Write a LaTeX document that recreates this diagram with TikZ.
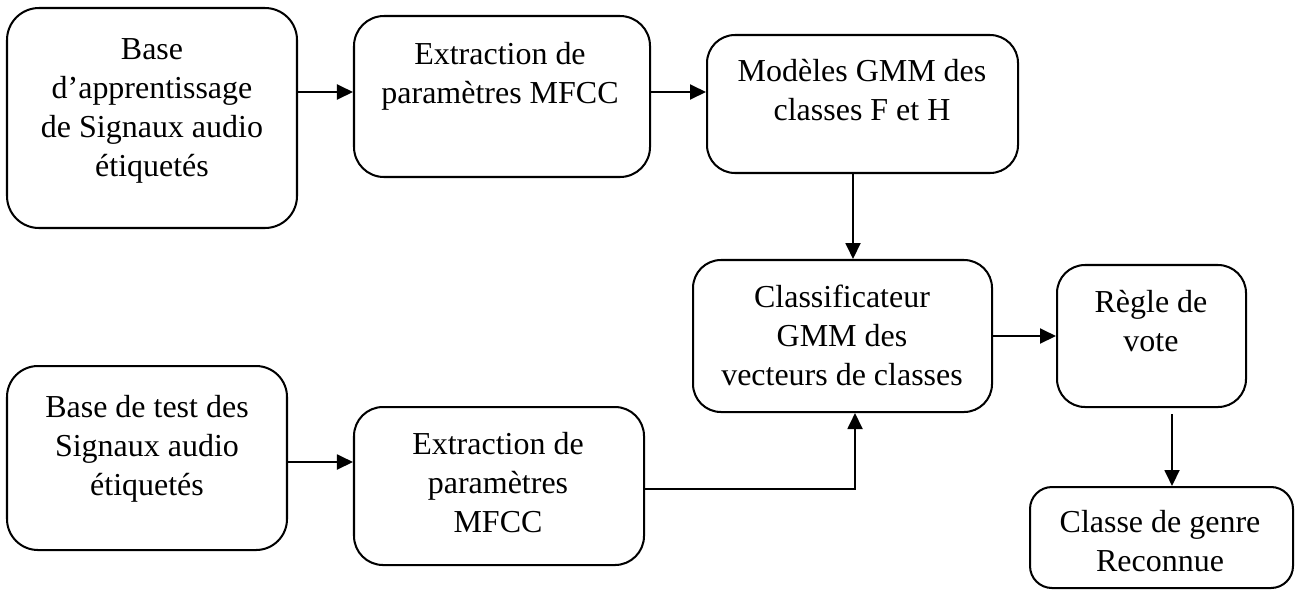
\documentclass[tikz,border=0pt]{standalone}
\usepackage{fontspec}
\setmainfont{Liberation Serif}
\usetikzlibrary{arrows.meta}

\tikzset{
  box/.style={draw, line width=1.15pt, rounded corners=#1, inner sep=0pt},
  box/.default=0.58cm,
  lbl/.style={align=center, inner sep=0pt, font=\fontsize{18.2}{22.2}\selectfont},
  arr/.style={line width=1.1pt, -{Triangle[length=0.32cm,width=0.3cm]}}
}

\begin{document}
\begin{tikzpicture}[x=0.02cm, y=-0.02cm]
\useasboundingbox (0,0) rectangle (1300,589);

% rounded boxes
\node[box=0.64cm, minimum width={290*0.02cm}, minimum height={220*0.02cm}] (b1) at (152,118) {};
\node[box=0.6cm,  minimum width={296*0.02cm}, minimum height={161*0.02cm}] (b2) at (502,96.5) {};
\node[box=0.56cm, minimum width={311*0.02cm}, minimum height={138*0.02cm}] (b3) at (862.5,104) {};
\node[box=0.56cm, minimum width={299*0.02cm}, minimum height={152*0.02cm}] (b4) at (842.5,336) {};
\node[box=0.56cm, minimum width={189*0.02cm}, minimum height={142*0.02cm}] (b5) at (1151.5,336) {};
\node[box=0.62cm, minimum width={280*0.02cm}, minimum height={184*0.02cm}] (b6) at (147,458) {};
\node[box=0.58cm, minimum width={290*0.02cm}, minimum height={158*0.02cm}] (b7) at (499,486) {};
\node[box=0.44cm, minimum width={263*0.02cm}, minimum height={101*0.02cm}] (b8) at (1161.5,537.5) {};

% box texts
\node[lbl] (t1) at (152,110.5) {Base\\d’apprentissage\\de Signaux audio\\étiquetés};
\node[lbl] (t2) at (500,76.5) {Extraction de\\paramètres MFCC};
\node[lbl] (t3) at (862,90.5) {Modèles GMM des\\classes F et H};
\node[lbl] (t4) at (842,335.5) {Classificateur\\GMM des\\vecteurs de classes};
\node[lbl] (t5) at (1151,321.5) {Règle de\\vote};
\node[lbl] (t6) at (147,448.5) {Base de test des\\Signaux audio\\étiquetés};
\node[lbl] (t7) at (498,483) {Extraction de\\paramètres\\MFCC};
\node[lbl] (t8) at (1160,541) {Classe de genre\\Reconnue};

% rows and columns of the connectors
\coordinate (r1) at (0,92);
\coordinate (c3) at (853,0);
\coordinate (r4) at (0,489);
\coordinate (c4) at (855,0);
\coordinate (r5) at (0,336);
\coordinate (c6) at (1172,0);
\coordinate (r7) at (0,462);

% connectors
\draw[arr] (r1 -| b1.east) -- (r1 -| b2.west);
\draw[arr] (r1 -| b2.east) -- (r1 -| b3.west);
\draw[arr] (c3 |- b3.south) -- (c3 |- b4.north);
\draw[arr] (r4 -| b7.east) -| (c4 |- b4.south);
\draw[arr] (r5 -| b4.east) -- (r5 -| b5.west);
\draw[arr] ([yshift={-6*0.02cm}]c6 |- b5.south) -- (c6 |- b8.north);
\draw[arr] (r7 -| b6.east) -- (r7 -| b7.west);
\end{tikzpicture}
\end{document}
